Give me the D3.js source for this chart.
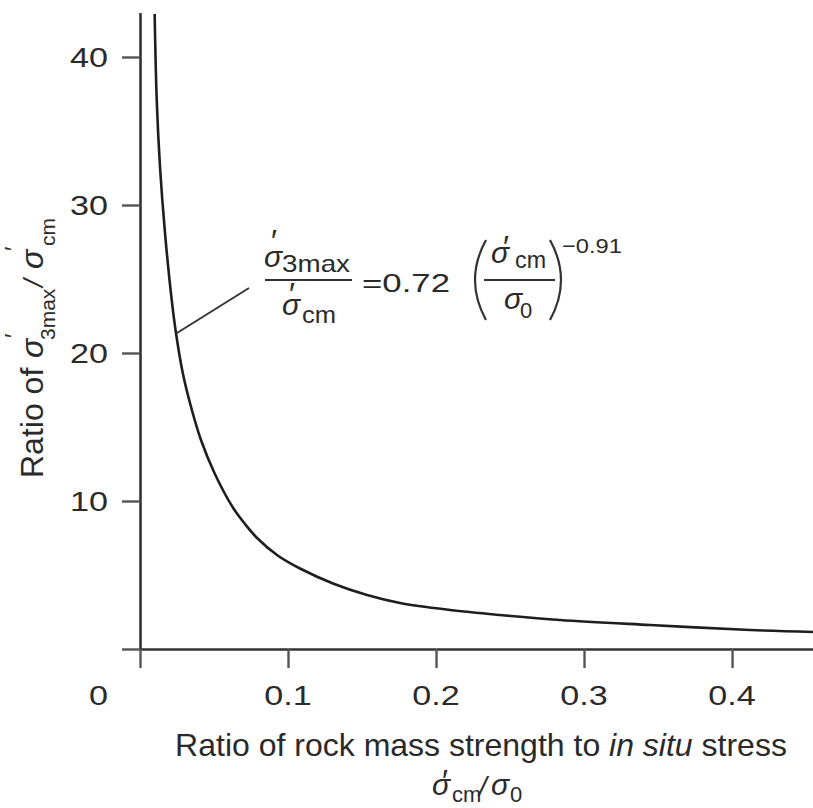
<!DOCTYPE html>
<html>
<head>
<meta charset="utf-8">
<script src="https://cdn.jsdelivr.net/npm/d3@7"></script>
<style>
  html, body { margin: 0; padding: 0; background: #fff; }
  svg { display: block; }
  text { font-family: "Liberation Sans", Arial, Helvetica, sans-serif; fill: #2a2a2a; }
</style>
</head>
<body>
<svg id="chart" width="813" height="808"></svg>
<script>
// ---- data ----
const curveX = [0.0099, 0.0113, 0.0135, 0.0169, 0.0214, 0.0243, 0.0289, 0.0345, 0.0412, 0.0503, 0.0625, 0.0709, 0.0791, 0.0930, 0.1081, 0.1304, 0.1534, 0.1757, 0.2095, 0.2432, 0.2838, 0.3446, 0.4122, 0.4547];
const curveY = [42.9, 37.1, 32.6, 28.1, 23.6, 21.35, 18.65, 16.35, 14.12, 11.89, 9.6, 8.45, 7.5, 6.32, 5.44, 4.43, 3.65, 3.11, 2.64, 2.3, 1.96, 1.62, 1.28, 1.15];
const xTicks = [0.1, 0.2, 0.3, 0.4];
const xTickLabels = ["0.1", "0.2", "0.3", "0.4"];
const yTicks = [10, 20, 30, 40];
const yTickLabels = ["10", "20", "30", "40"];
const originLabel = "0";
const calloutPoint = [0.025, 21.35];

// ---- layout ----
const svg = d3.select("#chart");
const x = d3.scaleLinear().domain([0, 0.4547]).range([140, 813]);
const y = d3.scaleLinear().domain([0, 43]).range([649, 12.6]);
const axisColor = "#333";
const stretch = 1.22;

const gy = svg.append("g").attr("transform", `translate(${x(0)},0)`)
  .call(d3.axisLeft(y).tickValues([0].concat(yTicks)).tickSize(18).tickSizeOuter(0).tickFormat(""));
const gx = svg.append("g").attr("transform", `translate(0,${y(0)})`)
  .call(d3.axisBottom(x).tickValues([0].concat(xTicks)).tickSize(19).tickSizeOuter(0).tickFormat(""));
[gx, gy].forEach(g => {
  g.select(".domain").attr("stroke", axisColor).attr("stroke-width", 2.6);
  g.selectAll(".tick line").attr("stroke", "#555").attr("stroke-width", 2.4);
});

svg.append("g").selectAll("text").data(yTicks).join("text")
  .attr("transform", `scale(${stretch},1)`)
  .attr("x", 108 / stretch)
  .attr("y", d => y(d) + 10)
  .attr("text-anchor", "end")
  .attr("font-size", 28)
  .text((d, i) => yTickLabels[i]);
svg.append("g").selectAll("text").data(xTicks).join("text")
  .attr("transform", `scale(${stretch},1)`)
  .attr("x", d => x(d) / stretch)
  .attr("y", 705)
  .attr("text-anchor", "middle")
  .attr("font-size", 28)
  .text((d, i) => xTickLabels[i]);
svg.append("text")
  .attr("transform", `scale(${stretch},1)`)
  .attr("x", 108 / stretch).attr("y", 705)
  .attr("text-anchor", "end").attr("font-size", 28).text(originLabel);

// curve
const pts = curveX.map((v, i) => [v, curveY[i]]);
svg.append("path")
  .datum(pts)
  .attr("fill", "none")
  .attr("stroke", "#1e1e1e")
  .attr("stroke-width", 2.6)
  .attr("d", d3.line().x(d => x(d[0])).y(d => y(d[1])).curve(d3.curveCatmullRom.alpha(0.5)));

// callout line
svg.append("line")
  .attr("x1", x(calloutPoint[0])).attr("y1", y(calloutPoint[1]))
  .attr("x2", 249).attr("y2", 288)
  .attr("stroke", "#333").attr("stroke-width", 2);

// equation
const eq = svg.append("g");
function t(px, py, s, size, opts = {}) {
  const e = eq.append("text").attr("x", px).attr("y", py).attr("font-size", size).text(s);
  if (opts.italic) e.attr("font-style", "italic");
  if (opts.len) e.attr("textLength", opts.len).attr("lengthAdjust", "spacingAndGlyphs");
  return e;
}
t(264, 267, "σ", 30, {italic: true});
t(271, 252, "′", 32);
t(282, 272, "3max", 24, {len: 68});
eq.append("line").attr("x1", 265).attr("x2", 352).attr("y1", 280).attr("y2", 280).attr("stroke", "#333").attr("stroke-width", 2);
t(282, 315, "σ", 30, {italic: true});
t(289, 305, "′", 32);
t(302, 323, "cm", 24, {len: 34});
t(362, 292, "=0.72", 25, {len: 88});
eq.append("path").attr("d", "M486,240 Q464,280 486,320").attr("fill", "none").attr("stroke", "#333").attr("stroke-width", 2.2);
t(491, 263, "σ", 30, {italic: true});
t(503, 258, "′", 32);
t(515, 268, "cm", 24, {len: 31});
eq.append("line").attr("x1", 484).attr("x2", 555).attr("y1", 280).attr("y2", 280).attr("stroke", "#333").attr("stroke-width", 2);
t(504, 309, "σ", 30, {italic: true});
t(520, 318, "0", 22);
eq.append("path").attr("d", "M550,240 Q572,280 550,320").attr("fill", "none").attr("stroke", "#333").attr("stroke-width", 2.2);
t(562, 253, "−0.91", 21, {len: 60});

// x axis title
svg.append("text").attr("x", 481).attr("y", 756).attr("text-anchor", "middle").attr("font-size", 32)
  .call(s => {
    s.append("tspan").text("Ratio of rock mass strength to ");
    s.append("tspan").attr("font-style", "italic").text("in situ");
    s.append("tspan").text(" stress");
  });
const xl2 = svg.append("g");
xl2.append("text").attr("x", 432).attr("y", 795).attr("font-size", 30).attr("font-style", "italic").text("σ");
xl2.append("text").attr("x", 442).attr("y", 792).attr("font-size", 32).text("′");
xl2.append("text").attr("x", 452).attr("y", 802).attr("font-size", 22).text("cm");
xl2.append("text").attr("x", 479).attr("y", 796).attr("font-size", 28).attr("font-style", "italic").text("/");
xl2.append("text").attr("x", 491).attr("y", 795).attr("font-size", 30).attr("font-style", "italic").text("σ");
xl2.append("text").attr("x", 510).attr("y", 802).attr("font-size", 22).text("0");

// y axis title (rotated)
const yl = svg.append("g").attr("transform", "rotate(-90)");
yl.append("text").attr("x", -478).attr("y", 43).attr("font-size", 32).text("Ratio of");
yl.append("text").attr("x", -358).attr("y", 43).attr("font-size", 32).attr("font-style", "italic").text("σ");
yl.append("text").attr("x", -338).attr("y", 22).attr("font-size", 24).text("′");
yl.append("text").attr("x", -340).attr("y", 55).attr("font-size", 21).text("3max");
yl.append("text").attr("x", -287).attr("y", 43).attr("font-size", 28).attr("font-style", "italic").text("/");
yl.append("text").attr("x", -269).attr("y", 43).attr("font-size", 32).attr("font-style", "italic").text("σ");
yl.append("text").attr("x", -251).attr("y", 22).attr("font-size", 24).text("′");
yl.append("text").attr("x", -246).attr("y", 55).attr("font-size", 21).text("cm");
</script>
</body>
</html>
